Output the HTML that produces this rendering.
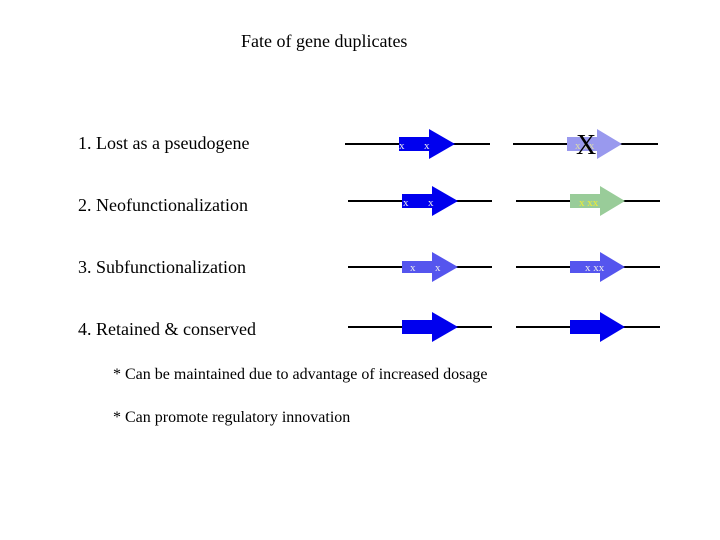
<!DOCTYPE html>
<html><head><meta charset="utf-8"><style>
html,body{margin:0;padding:0;background:#fff}
svg{display:block}
text{font-family:"Liberation Serif",serif;fill:#000}
.s{font-size:11px;fill:#eee}
</style></head><body>
<svg width="720" height="540" viewBox="0 0 720 540">
<text x="241" y="47" font-size="18">Fate of gene duplicates</text>
<text x="78" y="149" font-size="18">1.  Lost as a pseudogene</text>
<text x="78" y="211" font-size="18">2.  Neofunctionalization</text>
<text x="78" y="273" font-size="18">3.  Subfunctionalization</text>
<text x="78" y="335" font-size="18">4.  Retained &amp; conserved</text>
<text x="113" y="379" font-size="16">* Can be maintained due to advantage of increased dosage</text>
<text x="113" y="422" font-size="16">* Can promote regulatory innovation</text>
<g stroke="#000" stroke-width="2">
<line x1="345" y1="144" x2="490" y2="144"/><line x1="513" y1="144" x2="658" y2="144"/>
<line x1="348" y1="201" x2="492" y2="201"/><line x1="516" y1="201" x2="660" y2="201"/>
<line x1="348" y1="267" x2="492" y2="267"/><line x1="516" y1="267" x2="660" y2="267"/>
<line x1="348" y1="327" x2="492" y2="327"/><line x1="516" y1="327" x2="660" y2="327"/>
</g>
<!-- row1 -->
<polygon points="399,137 429,137 429,129 455,144 429,159 429,151 399,151" fill="#0000ee"/>
<text class="s" x="399" y="149">x</text><text class="s" x="424" y="149">x</text>
<polygon points="567,137 597,137 597,129 622,144 597,159 597,151 567,151" fill="#9999ee"/>
<text class="s" x="575" y="149" style="fill:#ddddaa">x xx</text>
<text x="576" y="154" font-size="28">X</text>
<!-- row2 -->
<polygon points="402,194 432,194 432,186 458,201 432,216 432,208 402,208" fill="#0000ee"/>
<text class="s" x="403" y="206">x</text><text class="s" x="428" y="206">x</text>
<polygon points="570,194 600,194 600,186 625,201 600,216 600,208 570,208" fill="#99cc99"/>
<text class="s" x="579" y="206" style="fill:#eeee33">x xx</text>
<!-- row3 -->
<polygon points="402,261 432,261 432,252 458,267 432,282 432,273 402,273" fill="#5555ee"/>
<text class="s" x="410" y="271">x</text><text class="s" x="435" y="271">x</text>
<polygon points="570,261 600,261 600,252 625,267 600,282 600,273 570,273" fill="#5555ee"/>
<text class="s" x="585" y="271">x xx</text>
<!-- row4 -->
<polygon points="402,320 432,320 432,312 458,327 432,342 432,334 402,334" fill="#0000ee"/>
<polygon points="570,320 600,320 600,312 625,327 600,342 600,334 570,334" fill="#0000ee"/>
</svg>
</body></html>
